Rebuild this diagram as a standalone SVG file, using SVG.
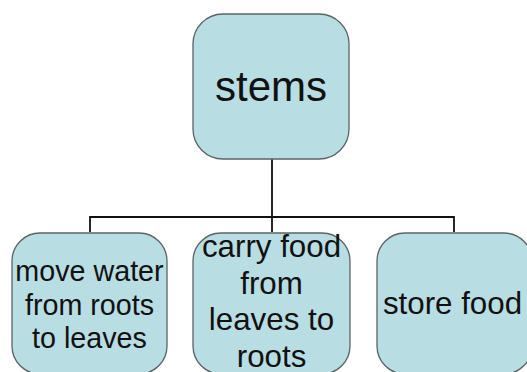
<svg xmlns="http://www.w3.org/2000/svg" width="527" height="372" viewBox="0 0 527 372">
<style>
.box{fill:#b8dde3;stroke:#5a6466;stroke-width:1.3}
.t{font-family:"Liberation Sans",Arial,sans-serif;fill:#111;text-anchor:middle}
.c{fill:none;stroke:#111;stroke-width:1.8}
</style>
<rect width="527" height="372" fill="#ffffff"/>
<g id="connectors">
<path class="c" d="M272 159 V217 M90 232 V217 H454 V232 M272 217 V232"/>
</g>
<g id="stems">
<rect class="box" x="193" y="14" width="156" height="145" rx="30"/>
<text class="t" x="271" y="101" font-size="42">stems</text>
</g>
<g id="move-water">
<rect class="box" x="12" y="233" width="155" height="141" rx="28"/>
<text class="t" font-size="28.7"><tspan x="89.5" y="281">move water</tspan><tspan x="89.5" y="314.5">from roots</tspan><tspan x="89.5" y="348">to leaves</tspan></text>
</g>
<g id="carry-food">
<rect class="box" x="193" y="233" width="157" height="141" rx="28"/>
<text class="t" font-size="31.3"><tspan x="271.5" y="257">carry food</tspan><tspan x="271.5" y="293.5">from</tspan><tspan x="271.5" y="330">leaves to</tspan><tspan x="271.5" y="366.5">roots</tspan></text>
</g>
<g id="store-food">
<rect class="box" x="377" y="233" width="155" height="141" rx="28"/>
<text class="t" x="452.5" y="314" font-size="31.3">store food</text>
</g>
</svg>
